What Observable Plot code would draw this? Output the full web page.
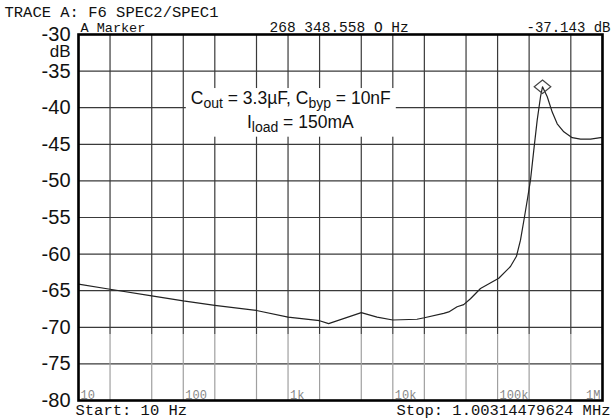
<!DOCTYPE html>
<html><head><meta charset="utf-8">
<script src="https://cdn.jsdelivr.net/npm/d3@7"></script>
<script src="https://cdn.jsdelivr.net/npm/@observablehq/plot@0.6"></script>
<style>
html,body{margin:0;padding:0;background:#fff;}
#chart{width:613px;height:418px;}
</style></head><body><div id="chart"></div>
<script>
// ---- data ----
const freqHz = [10,20,50,100,200,500,1000,2000,2440,5000,7080,10000,17000,20000,30600,34200,41100,47500,55100,68700,102600,132700,151400,165400,180700,194200,206100,221600,238800,256900,268348.558,297900,332200,370700,428500,515300,619300,771300,961000,1003144.79624];
const gaindB = [-64.1,-64.8,-65.7,-66.4,-67.0,-67.7,-68.6,-69.1,-69.5,-68.0,-68.6,-69.0,-68.9,-68.7,-68.1,-67.9,-67.2,-66.9,-66.1,-64.7,-63.3,-61.7,-60.3,-58.1,-54.9,-52.2,-49.9,-45.8,-41.7,-38.5,-37.143,-38.5,-40.6,-42.2,-43.3,-44.1,-44.3,-44.3,-44.1,-44.1];
const markerFreq = [268348.558];
const markerdB = [-37.143];
const yTicks = [-80,-75,-70,-65,-60,-55,-50,-45,-40,-35,-30];
const xGridFreqs = [10,20,50,100,200,500,1000,2000,5000,10000,20000,50000,100000,200000,500000,1000000];
const decadeFreqs = [10,100,1000,10000,100000,1000000];
const decadeLabels = ["10","100","1k","10k","100k","1M"];
const yUnit = "dB";
const headerTitle = "TRACE A: F6 SPEC2/SPEC1";
const markerName = "A Marker";
const markerFreqText = "268 348.558 O Hz";
const markerValueText = "-37.143 dB";
const startText = "Start: 10 Hz";
const stopText = "Stop: 1.00314479624 MHz";
const xDomain = [10, 1003144.79624];
const yDomain = [-80, -30];
const lightGridBelow = -71;
// annotation: segments [text, isSubscript]
const annotLines = [
  [["C",false],["out",true],[" = 3.3\u00b5F, C",false],["byp",true],[" = 10nF",false]],
  [["I",false],["load",true],[" = 150mA",false]]
];
const annotFreq = [118, 405];
const annotdB = [-39.5, -42.8];

// ---- build ----
const curve = freqHz.map((f,i)=>({f, v: gaindB[i]}));
const marker = markerFreq.map((f,i)=>({f, v: markerdB[i]}));
const annotPlain = annotLines.map(l => l.map(s=>s[0]).join(""));
const annot = annotPlain.map((t,i)=>({t, f: annotFreq[i], v: annotdB[i]}));
const mono = "'Liberation Mono','DejaVu Sans Mono',monospace";
const sans = "'Liberation Sans',Arial,Helvetica,sans-serif";
const darkGrid = "#3a3a3a", lightGrid = "#a0a0a0";

const wideDiamond = {draw(ctx){ const w=8.3, h=6.8; ctx.moveTo(0,-h); ctx.lineTo(w,0); ctx.lineTo(0,h); ctx.lineTo(-w,0); ctx.closePath(); }};

const plot = Plot.plot({
  width: 613, height: 418,
  marginLeft: 78, marginRight: 11, marginTop: 34, marginBottom: 18,
  style: {fontFamily: sans, background: "#fff", overflow: "visible"},
  x: {type: "log", domain: xDomain, axis: null},
  y: {domain: yDomain, axis: null},
  marks: [
    Plot.ruleY(yTicks, {y: d=>d, stroke: darkGrid, strokeWidth: 1.2}),
    Plot.ruleX(xGridFreqs, {x: d=>d, y1: yDomain[0], y2: lightGridBelow, stroke: lightGrid, strokeWidth: 1.2}),
    Plot.ruleX(xGridFreqs, {x: d=>d, y1: lightGridBelow, y2: yDomain[1], stroke: darkGrid, strokeWidth: 1.2}),
    Plot.line(curve, {x: "f", y: "v", stroke: "#222", strokeWidth: 1.2}),
    Plot.dot(marker, {x: "f", y: "v", symbol: wideDiamond, r: 8, stroke: "#444", strokeWidth: 1.2, fill: "none"}),
    Plot.text(annot, {x: "f", y: "v", text: "t", textAnchor: "start", lineAnchor: "bottom", fontSize: 17.5, fontFamily: sans, fill: "#111"}),
    Plot.frame({stroke: "#000", strokeWidth: 2.6}),
    Plot.axisY(yTicks, {tickSize: 0, tickPadding: 8, fontSize: 20, fontFamily: sans, fill: "#111", tickFormat: d=>String(d), label: null}),
    Plot.text([yUnit], {frameAnchor: "top-left", dx: -8, dy: 22, textAnchor: "end", lineAnchor: "bottom", fontSize: 17, fontFamily: sans, fill: "#111"}),
    Plot.text(decadeFreqs.slice(0,-1), {x: d=>d, frameAnchor: "bottom", text: (d,i)=>decadeLabels[i], dx: 2, dy: -2, textAnchor: "start", lineAnchor: "bottom", fontSize: 12, fontFamily: mono, fill: "#888"}),
    Plot.text(decadeFreqs.slice(-1), {x: d=>d, frameAnchor: "bottom", text: d=>decadeLabels[decadeLabels.length-1], dx: -2, dy: -2, textAnchor: "end", lineAnchor: "bottom", fontSize: 12, fontFamily: mono, fill: "#888"}),
    Plot.text([headerTitle], {frameAnchor: "top-left", dx: -74, dy: -18, textAnchor: "start", lineAnchor: "bottom", fontSize: 15.5, fontFamily: mono, fill: "#111"}),
    Plot.text([markerName], {frameAnchor: "top-left", dx: 2, dy: -2.5, textAnchor: "start", lineAnchor: "bottom", fontSize: 13.5, fontFamily: mono, fill: "#111"}),
    Plot.text([markerFreqText], {frameAnchor: "top-left", dx: 191, dy: -2.5, textAnchor: "start", lineAnchor: "bottom", fontSize: 14.5, fontFamily: mono, fill: "#111"}),
    Plot.text([markerValueText], {frameAnchor: "top-right", dx: 8, dy: -2.5, textAnchor: "end", lineAnchor: "bottom", fontSize: 14, fontFamily: mono, fill: "#111"}),
    Plot.text([startText], {frameAnchor: "bottom-left", dx: -3, dy: 14, textAnchor: "start", lineAnchor: "bottom", fontSize: 15.5, fontFamily: mono, fill: "#111"}),
    Plot.text([stopText], {frameAnchor: "bottom-right", dx: 8, dy: 14, textAnchor: "end", lineAnchor: "bottom", fontSize: 15.5, fontFamily: mono, fill: "#111"})
  ]
});
document.getElementById("chart").append(plot);

// rich-text subscripts for the annotation and a white box behind it
const svgNode = plot.tagName.toLowerCase() === "svg" ? plot : plot.querySelector("svg");
const annNodes = [];
d3.select(svgNode).selectAll("text").each(function(){
  const idx = annotPlain.indexOf(this.textContent);
  if (idx >= 0) annNodes.push([this, idx]);
});
for (const [node, idx] of annNodes) {
  const sel = d3.select(node);
  sel.text("");
  let shifted = false;
  for (const [s, sub] of annotLines[idx]) {
    const ts = sel.append("tspan").text(s);
    if (sub && !shifted) { ts.attr("dy", 3.5).attr("font-size", 14); shifted = true; }
    else if (sub) { ts.attr("font-size", 14); }
    else if (shifted) { ts.attr("dy", -3.5); shifted = false; }
  }
}
if (annNodes.length) {
  const sr = svgNode.getBoundingClientRect();
  let x0=Infinity,y0=Infinity,x1=-Infinity,y1=-Infinity;
  for (const [node] of annNodes) {
    const r = node.getBoundingClientRect();
    x0=Math.min(x0,r.left-sr.left); y0=Math.min(y0,r.top-sr.top);
    x1=Math.max(x1,r.right-sr.left); y1=Math.max(y1,r.bottom-sr.top);
  }
  const g = annNodes[0][0].parentNode;
  const rect = document.createElementNS("http://www.w3.org/2000/svg","rect");
  rect.setAttribute("x", x0-5); rect.setAttribute("y", y0);
  rect.setAttribute("width", x1-x0+10); rect.setAttribute("height", y1-y0+2);
  rect.setAttribute("fill", "#fff");
  g.parentNode.insertBefore(rect, g);
}
</script></body></html>
